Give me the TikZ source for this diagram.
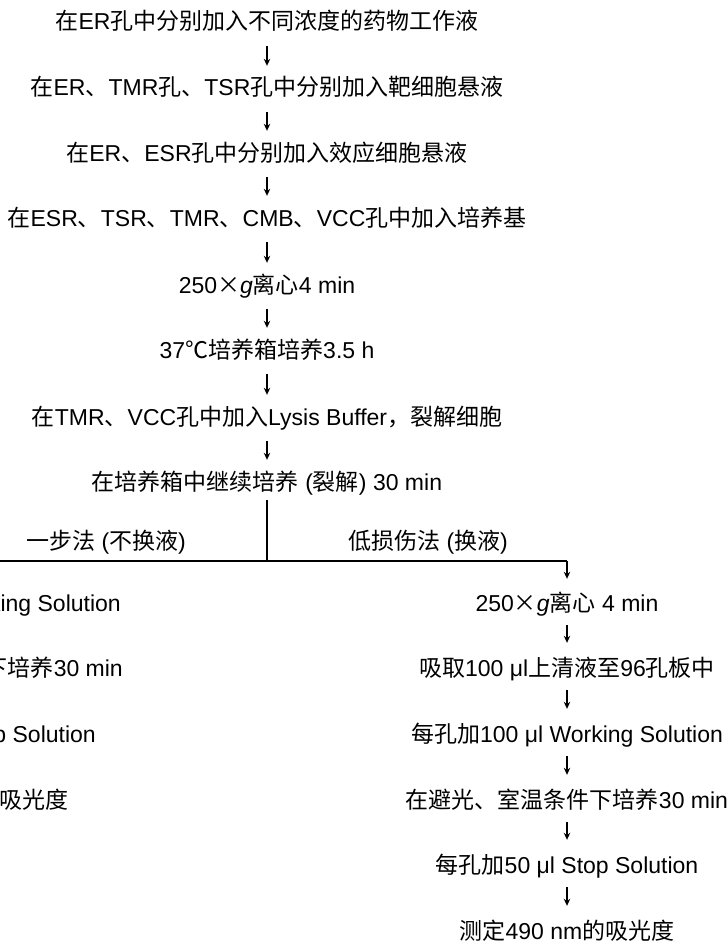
\documentclass[tikz,border=0pt]{standalone}
\usepackage{fontspec}
\setmainfont{Liberation Sans}
\newfontfamily\cjk{Noto Sans CJK SC}
\usetikzlibrary{arrows.meta}
\begin{document}
\begin{tikzpicture}[x=1pt,y=-1pt,
  font=\fontsize{23}{27}\selectfont,
  every node/.style={inner sep=0pt, text height=17pt, text depth=5pt},
  arr/.style={line width=1.1pt, -{Stealth[length=7pt,width=6.5pt]}},
  ln/.style={line width=1.1pt}]
\useasboundingbox (0,0) rectangle (727,944);
\clip (0,0) rectangle (727,944);
% main column
\node (n1) at (267,24)  {{\cjk 在}ER{\cjk 孔中分别加入不同浓度的药物工作液}};
\node (n2) at (267,90)  {{\cjk 在}ER{\cjk 、}TMR{\cjk 孔、}TSR{\cjk 孔中分别加入靶细胞悬液}};
\node (n3) at (267,155) {{\cjk 在}ER{\cjk 、}ESR{\cjk 孔中分别加入效应细胞悬液}};
\node (n4) at (267,220) {{\cjk 在}ESR{\cjk 、}TSR{\cjk 、}TMR{\cjk 、}CMB{\cjk 、}VCC{\cjk 孔中加入培养基}};
\node (n5) at (267,287) {250{\cjk ×}\textit{g}{\cjk 离心}4 min};
\node (n6) at (267,352) {37{\cjk ℃培养箱培养}3.5 h};
\node (n7) at (267,419) {{\cjk 在}TMR{\cjk 、}VCC{\cjk 孔中加入}Lysis Buffer{\cjk ，裂解细胞}};
\node (n8) at (267,484) {{\cjk 在培养箱中继续培养} ({\cjk 裂解}) 30 min};
\foreach \a/\b in {n1/n2,n2/n3,n3/n4,n4/n5,n5/n6,n6/n7,n7/n8}
  \draw[arr, shorten <=11pt, shorten >=13pt] (\a) -- (\b);
% branch
\coordinate (J) at (267,561);
\coordinate (L) at (-60,561);
\coordinate (R) at (567,561);
\draw[ln, shorten <=5pt] (n8) -- (J);
\node (lab1) at (106,543) {{\cjk 一步法} ({\cjk 不换液})};
\node (lab2) at (428,543) {{\cjk 低损伤法} ({\cjk 换液})};
% right column
\node (r1) at (567,605) {250{\cjk ×}\textit{g}{\cjk 离心} 4 min};
\node (r2) at (567,670) {{\cjk 吸取}100 μl{\cjk 上清液至}96{\cjk 孔板中}};
\node (r3) at (567,736) {{\cjk 每孔加}100 μl Working Solution};
\node (r4) at (567,802) {{\cjk 在避光、室温条件下培养}30 min};
\node (r5) at (567,867) {{\cjk 每孔加}50 μl Stop Solution};
\node (r6) at (567,933) {{\cjk 测定}490 nm{\cjk 的吸光度}};
\draw[ln] (L) -- (R);
\draw[arr, shorten >=15pt] (R) -- (r1);
\foreach \a/\b in {r1/r2,r2/r3,r3/r4,r4/r5,r5/r6}
  \draw[arr, shorten <=9pt, shorten >=16pt] (\a) -- (\b);
% left column (cut off by the picture's edge, as in the reference)
\node[anchor=east] (l1) at (121,605) {{\cjk 每孔加}100 μl Working Solution};
\node[anchor=east] (l2) at (123,670) {{\cjk 在避光、室温条件下培养}30 min};
\node[anchor=east] (l3) at (96,736)  {{\cjk 每孔加}50 μl Stop Solution};
\node[anchor=east] (l4) at (69,802)  {{\cjk 测定}490 nm{\cjk 的吸光度}};
\end{tikzpicture}
\end{document}
